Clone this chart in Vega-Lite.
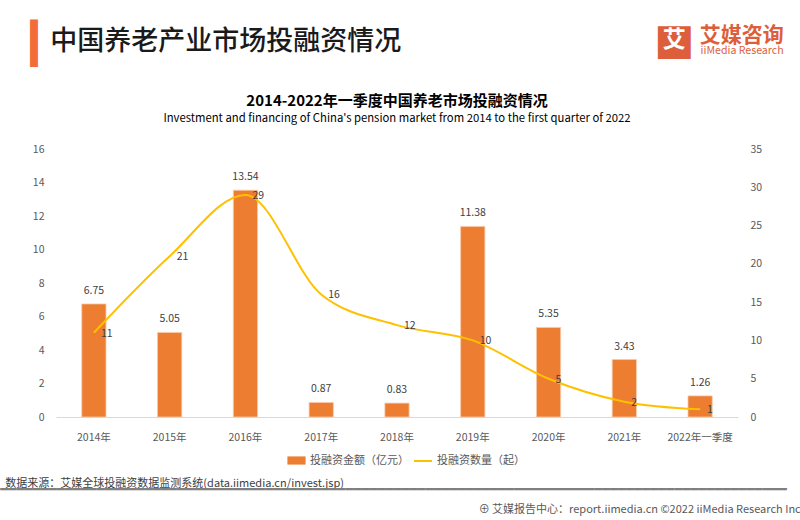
{
  "$schema": "https://vega.github.io/schema/vega-lite/v6.json",
  "background": "white",
  "padding": {"left": 0, "top": 19, "right": 0, "bottom": 0},
  "config": {
    "view": {"stroke": null},
    "font": "Noto Sans CJK SC",
    "concat": {"spacing": 0},
    "axis": {"labelOverlap": false}
  },
  "data": {
    "values": [
      {"year": "2014年", "amount": 6.75, "count": 11},
      {"year": "2015年", "amount": 5.05, "count": 21},
      {"year": "2016年", "amount": 13.54, "count": 29},
      {"year": "2017年", "amount": 0.87, "count": 16},
      {"year": "2018年", "amount": 0.83, "count": 12},
      {"year": "2019年", "amount": 11.38, "count": 10},
      {"year": "2020年", "amount": 5.35, "count": 5},
      {"year": "2021年", "amount": 3.43, "count": 2},
      {"year": "2022年一季度", "amount": 1.26, "count": 1}
    ]
  },
  "title": {
    "text": "⊕ 艾媒报告中心：report.iimedia.cn    ©2022   iiMedia Research Inc",
    "orient": "bottom", "anchor": "end", "frame": "bounds", "dx": 14,
    "fontSize": 11, "fontWeight": "normal", "color": "#595959", "offset": 8
  },
  "resolve": {"scale": {"fill": "independent", "stroke": "independent"}, "legend": {"fill": "independent", "stroke": "independent"}},
  "vconcat": [{
    "title": {
      "text": "━━━━━━━━━━━━━━━━━━━━━━━━━━━━━━━━━━━━━━━━━━━━━━━━━━━━━━━━━━━━━━━━━━━━━━━━━━━━━━━━━━━━━━━━━━━━━━━━━━",
      "orient": "bottom", "anchor": "start", "frame": "bounds", "dx": -5,
      "font": "DejaVu Sans Mono", "fontSize": 13.33, "fontWeight": "normal", "color": "#7F7F7F", "offset": -6
    },
    "resolve": {"scale": {"fill": "independent", "stroke": "independent"}, "legend": {"fill": "independent", "stroke": "independent"}},
    "vconcat": [{
      "title": {
        "text": "数据来源：艾媒全球投融资数据监测系统(data.iimedia.cn/invest.jsp)",
        "orient": "bottom", "anchor": "start", "frame": "bounds", "dx": -25,
        "fontSize": 11, "fontWeight": "normal", "color": "#404040", "offset": 12
      },
      "resolve": {"scale": {"fill": "independent", "stroke": "independent"}, "legend": {"fill": "independent", "stroke": "independent"}},
      "vconcat": [{
        "title": {
          "text": "艾媒咨询", "subtitle": "iiMedia Research",
          "orient": "top", "anchor": "end", "frame": "bounds", "dx": 22,
          "fontSize": 21, "fontWeight": "bold", "color": "#DD5E3A",
          "subtitleFontSize": 10.6, "subtitleColor": "#DD5E3A", "subtitlePadding": 0,
          "dy": 37, "offset": 0
        },
        "resolve": {"scale": {"fill": "independent", "stroke": "independent"}, "legend": {"fill": "independent", "stroke": "independent"}},
        "vconcat": [{
          "title": {
            "text": "艾", "orient": "top", "anchor": "end", "frame": "bounds", "dx": -76,
            "fontSize": 23, "fontWeight": "bold", "color": "#FFFFFF", "dy": 32, "offset": 0
          },
          "resolve": {"scale": {"fill": "independent", "stroke": "independent"}, "legend": {"fill": "independent", "stroke": "independent"}},
          "vconcat": [{
            "title": {
              "text": "■", "orient": "top", "anchor": "end", "frame": "bounds", "dx": -67,
              "font": "DejaVu Sans", "fontSize": 43, "fontWeight": "normal", "color": "#DD5E3A", "dy": 38, "offset": 0
            },
            "resolve": {"scale": {"fill": "independent", "stroke": "independent"}, "legend": {"fill": "independent", "stroke": "independent"}},
            "vconcat": [{
              "title": {
                "text": "▎", "orient": "top", "anchor": "start", "frame": "bounds", "dx": -2,
                "font": "DejaVu Sans", "fontSize": 40, "fontWeight": "normal", "color": "#F26B38", "dy": 37, "offset": 0
              },
              "resolve": {"scale": {"fill": "independent", "stroke": "independent"}, "legend": {"fill": "independent", "stroke": "independent"}},
              "vconcat": [{
                "title": {
                  "text": "中国养老产业市场投融资情况", "orient": "top", "anchor": "start", "frame": "bounds", "dx": 18,
                  "fontSize": 27, "fontWeight": 500, "color": "#1a1a1a", "offset": 38
                },
                "resolve": {"scale": {"fill": "independent", "stroke": "independent"}, "legend": {"fill": "independent", "stroke": "independent"}},
                "vconcat": [{
                  "width": 682,
                  "height": 268,
                  "title": {
                    "text": "2014-2022年一季度中国养老市场投融资情况",
                    "subtitle": "Investment and financing of China's pension market from 2014 to the first quarter of 2022",
                    "anchor": "middle", "frame": "group",
                    "fontSize": 15, "fontWeight": "bold", "color": "#000000",
                    "subtitleFontSize": 11.3, "subtitleColor": "#000000", "subtitlePadding": 4,
                    "offset": 20
                  },
                  "encoding": {
                    "x": {
                      "field": "year", "type": "nominal", "sort": null,
                      "scale": {"paddingInner": 0.68, "paddingOuter": 0.34},
                      "axis": {
                        "title": null, "labelAngle": 0, "ticks": false,
                        "domainColor": "#D9D9D9", "labelColor": "#595959",
                        "labelFontSize": 10.5, "labelPadding": 15
                      }
                    }
                  },
                  "layer": [
                    {
                      "encoding": {
                        "y": {
                          "field": "amount", "type": "quantitative",
                          "scale": {"domain": [0, 16]},
                          "axis": {
                            "title": null, "values": [0, 2, 4, 6, 8, 10, 12, 14, 16],
                            "grid": false, "domain": false, "ticks": false, "labelOverlap": false,
                            "labelColor": "#595959", "labelFontSize": 10.5, "labelPadding": 12
                          }
                        }
                      },
                      "layer": [
                        {
                          "mark": {"type": "bar", "color": "#ED7D31", "stroke": "#F8CBAD", "strokeWidth": 0.8},
                          "encoding": {
                            "fill": {
                              "datum": "投融资金额（亿元）",
                              "scale": {"range": ["#ED7D31"]},
                              "legend": {
                                "title": null, "orient": "none", "legendX": 231, "legendY": 302,
                                "symbolType": "M-1,-0.45H1V0.45H-1Z", "symbolSize": 330,
                                "symbolStrokeWidth": 0,
                                "labelFontSize": 11, "labelColor": "#595959"
                              }
                            }
                          }
                        },
                        {
                          "mark": {"type": "text", "baseline": "bottom", "dy": -8, "fontSize": 10.5, "color": "#404040"},
                          "encoding": {
                            "text": {"field": "amount", "type": "quantitative", "format": ".2f"}
                          }
                        }
                      ]
                    },
                    {
                      "encoding": {
                        "y": {
                          "field": "count", "type": "quantitative",
                          "scale": {"domain": [0, 35]},
                          "axis": {
                            "title": null, "orient": "right", "values": [0, 5, 10, 15, 20, 25, 30, 35],
                            "grid": false, "domain": false, "ticks": false, "labelOverlap": false,
                            "labelColor": "#595959", "labelFontSize": 10.5, "labelPadding": 12
                          }
                        }
                      },
                      "layer": [
                        {
                          "mark": {"type": "line", "interpolate": "monotone", "strokeWidth": 2},
                          "encoding": {
                            "stroke": {
                              "datum": "投融资数量（起）",
                              "scale": {"range": ["#FFC000"]},
                              "legend": {
                                "title": null, "orient": "none", "legendX": 357, "legendY": 302,
                                "symbolStrokeWidth": 2, "symbolSize": 324,
                                "labelFontSize": 11, "labelColor": "#595959"
                              }
                            }
                          }
                        },
                        {
                          "mark": {"type": "text", "align": "left", "baseline": "middle", "dx": 7, "dy": 1, "fontSize": 10.5, "color": "#404040"},
                          "encoding": {
                            "text": {"field": "count", "type": "quantitative"}
                          }
                        }
                      ]
                    }
                  ],
                  "resolve": {"scale": {"y": "independent"}}
                }]
              }]
            }]
          }]
        }]
      }]
    }]
  }]
}
